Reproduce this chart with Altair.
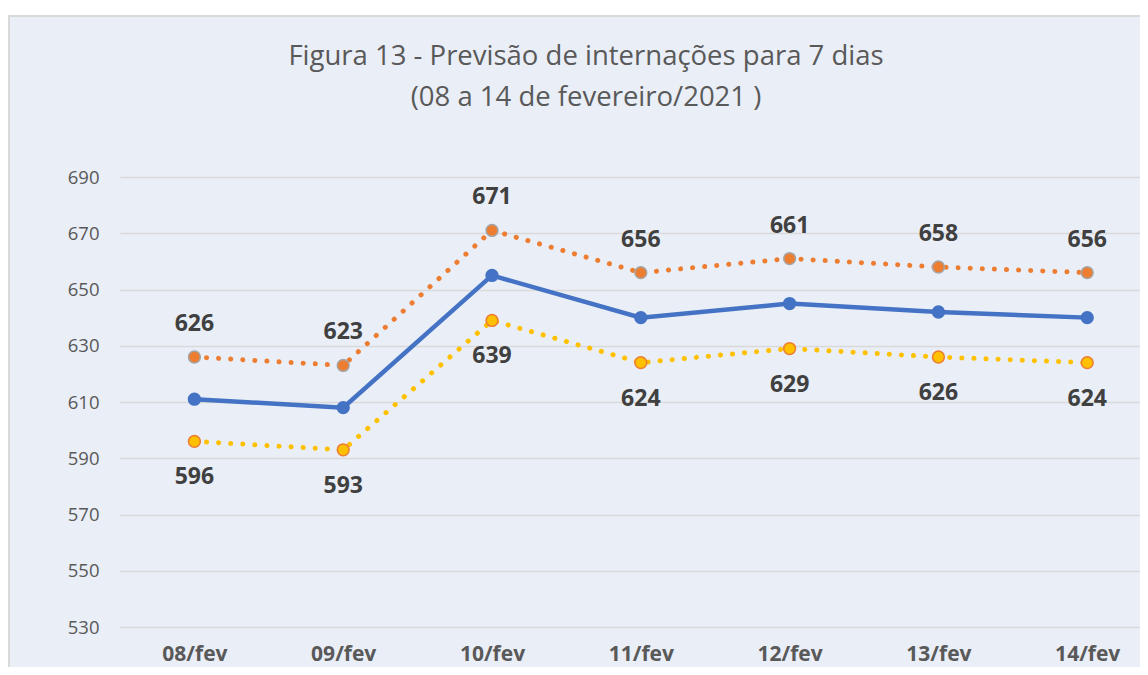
import altair as alt
import pandas as pd

days = ["08/fev", "09/fev", "10/fev", "11/fev", "12/fev", "13/fev", "14/fev"]
upper = [626, 623, 671, 656, 661, 658, 656]
forecast = [611, 608, 655, 640, 645, 642, 640]
lower = [596, 593, 639, 624, 629, 626, 624]
y_ticks = [530, 550, 570, 590, 610, 630, 650, 670, 690]
title_line1 = "Figura 13 - Previsão de internações para 7 dias"
title_line2 = "(08 a 14 de fevereiro/2021 )"

df = pd.DataFrame({
    "dia": days * 3,
    "valor": upper + forecast + lower,
    "serie": ["Superior"] * 7 + ["Previsão"] * 7 + ["Inferior"] * 7,
})

FONT = "Open Sans"
BG = "#EAEEF7"
W, H = 1020, 450

xenc = alt.X("dia:N", sort=days,
             scale=alt.Scale(type="point", padding=0.4274, align=0.585),
             axis=alt.Axis(title=None, domain=False, ticks=False, labelAngle=0,
                           labelFont=FONT, labelFontSize=21, labelFontWeight="bold",
                           labelColor="#595959", labelPadding=16))
yenc = alt.Y("valor:Q", scale=alt.Scale(domain=[530, 690], nice=False, zero=False),
             axis=alt.Axis(title=None, domain=False, ticks=False, values=y_ticks,
                           labelFont=FONT, labelFontSize=18.5, labelColor="#595959",
                           labelPadding=21, gridColor="#D9D9D9", gridWidth=1.5))

base = alt.Chart(df).encode(x=xenc, y=yenc)

one = pd.DataFrame({"a": [0]})
top_strip = alt.Chart(one).mark_rect(fill="white").encode(
    x=alt.value(-112), x2=alt.value(W), y=alt.value(-169), y2=alt.value(-162))
border_top = alt.Chart(one).mark_rule(color="#D9D9D9", strokeWidth=2).encode(
    x=alt.value(-112), x2=alt.value(W), y=alt.value(-161))
border_left = alt.Chart(one).mark_rule(color="#D9D9D9", strokeWidth=2).encode(
    x=alt.value(-111), y=alt.value(-161), y2=alt.value(H + 40))

title_kw = dict(font=FONT, fontSize=27.5, color="#595959", baseline="middle", align="center")
title1 = alt.Chart(one).mark_text(text=title_line1, **title_kw).encode(
    x=alt.value(466), y=alt.value(-120))
title2 = alt.Chart(one).mark_text(text=title_line2, **title_kw).encode(
    x=alt.value(466), y=alt.value(-79))

styles = {
    "Superior": dict(color="#ED7D31", dash=[0.1, 12], width=5, pfill="#ED7D31",
                     pstroke="#A5A5A5", dy=-33),
    "Inferior": dict(color="#FFC000", dash=[0.1, 12], width=5, pfill="#FFC000",
                     pstroke="#ED7D31", dy=36),
    "Previsão": dict(color="#4472C4", dash=None, width=4.5, pfill="#4472C4",
                     pstroke="#4472C4", dy=None),
}

layers = []
for s in ["Superior", "Inferior", "Previsão"]:
    st = styles[s]
    b = base.transform_filter(alt.datum.serie == s)
    line_kw = dict(color=st["color"], strokeWidth=st["width"], strokeCap="round")
    if st["dash"]:
        line_kw["strokeDash"] = st["dash"]
    layers.append(b.mark_line(**line_kw))
    layers.append(b.mark_point(filled=True, size=140, fill=st["pfill"], stroke=st["pstroke"],
                               strokeWidth=1.5, opacity=1))
    if st["dy"] is not None:
        layers.append(b.mark_text(font=FONT, fontSize=23, fontWeight="bold", color="#404040",
                                  dy=st["dy"], baseline="middle").encode(text="valor:Q"))

chart = alt.layer(*layers, top_strip, border_top, border_left, title1, title2).properties(
    width=W, height=H,
    autosize=alt.AutoSizeParams(type="none"),
    padding={"left": 112, "top": 169, "right": 0, "bottom": 40},
    background=BG,
).configure_view(stroke=None)

chart.save("out.html", embed_options={"renderer": "svg", "actions": False})
